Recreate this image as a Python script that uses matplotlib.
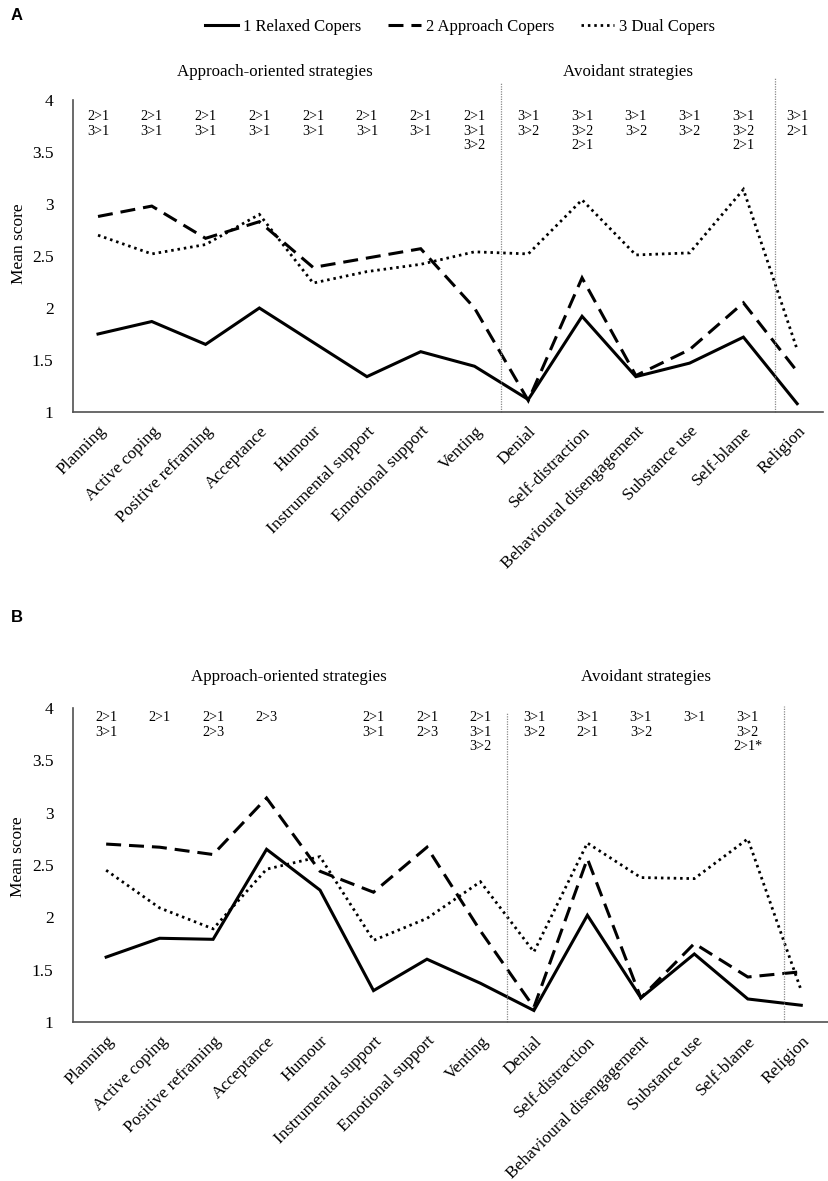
import matplotlib
matplotlib.use("Agg")
import matplotlib.pyplot as plt
from matplotlib.lines import Line2D

# ---------------- data ----------------
categories = ["Planning", "Active coping", "Positive reframing", "Acceptance",
              "Humour", "Instrumental support", "Emotional support", "Venting",
              "Denial", "Self-distraction", "Behavioural disengagement",
              "Substance use", "Self-blame", "Religion"]
group_names = ["1 Relaxed Copers", "2 Approach Copers", "3 Dual Copers"]

a_relaxed = [1.75, 1.87, 1.65, 2.00, 1.67, 1.34, 1.58, 1.44, 1.12, 1.92, 1.34, 1.47, 1.72, 1.08]
a_approach = [2.88, 2.98, 2.67, 2.83, 2.39, 2.48, 2.57, 2.00, 1.11, 2.29, 1.35, 1.60, 2.05, 1.39]
a_dual = [2.70, 2.52, 2.61, 2.90, 2.24, 2.35, 2.42, 2.54, 2.52, 3.04, 2.51, 2.53, 3.14, 1.60]

b_relaxed = [1.62, 1.80, 1.79, 2.65, 2.26, 1.30, 1.60, 1.37, 1.11, 2.02, 1.23, 1.65, 1.22, 1.16]
b_approach = [2.70, 2.67, 2.60, 3.14, 2.44, 2.24, 2.67, 1.87, 1.14, 2.56, 1.23, 1.75, 1.43, 1.48]
b_dual = [2.45, 2.09, 1.89, 2.46, 2.58, 1.78, 1.99, 2.34, 1.67, 2.71, 2.38, 2.37, 2.75, 1.30]

a_annot = ["2>1\n3>1", "2>1\n3>1", "2>1\n3>1", "2>1\n3>1", "2>1\n3>1", "2>1\n3>1",
           "2>1\n3>1", "2>1\n3>1\n3>2", "3>1\n3>2", "3>1\n3>2\n2>1", "3>1\n3>2",
           "3>1\n3>2", "3>1\n3>2\n2>1", "3>1\n2>1"]
b_annot = ["2>1\n3>1", "2>1", "2>1\n2>3", "2>3", "", "2>1\n3>1", "2>1\n2>3",
           "2>1\n3>1\n3>2", "3>1\n3>2", "3>1\n2>1", "3>1\n3>2", "3>1",
           "3>1\n3>2\n2>1*", ""]

section_labels = ["Approach-oriented strategies", "Avoidant strategies"]
yticks = [1, 1.5, 2, 2.5, 3, 3.5, 4]
ytick_labels = ["1", "1.5", "2", "2.5", "3", "3.5", "4"]
panel_letters = ["A", "B"]

# ---------------- style ----------------
plt.rcParams['font.family'] = ['Liberation Serif', 'DejaVu Serif']
W, H = 829, 1181
fig = plt.figure(figsize=(W / 100, H / 100), dpi=100)

styles = [dict(color='black', lw=2.2, ls='-'),
          dict(color='black', lw=2.2, ls=(0, (4.9, 2.6))),
          dict(color='black', lw=2.0, ls=(0, (0.9, 1.4)))]


def px_axes(left, top, right, bottom):
    return fig.add_axes([left / W, 1 - bottom / H, (right - left) / W, (bottom - top) / H])


panels = [
    dict(box=(73, 100, 823, 412), xlim=(-0.465, 13.48),
         series=[a_relaxed, a_approach, a_dual], annot=a_annot, annot_y=3.90,
         vlines=[(7.5, 4.16), (12.59, 4.22)], head_y=4.27, head_x=[3.29, 9.85],
         ylab_y=0.54, letter_y=15),
    dict(box=(73, 708, 828, 1022), xlim=(-0.62, 13.5),
         series=[b_relaxed, b_approach, b_dual], annot=b_annot, annot_y=3.97,
         vlines=[(7.5, 3.96), (12.67, 4.02)], head_y=4.30, head_x=[3.42, 10.09],
         ylab_y=0.525, letter_y=618),
]

x = list(range(len(categories)))
handles = []
for p in panels:
    ax = px_axes(*p['box'])
    for vals, st in zip(p['series'], styles):
        ln, = ax.plot(x, vals, solid_joinstyle='miter', dash_joinstyle='miter', **st)
        if p is panels[0]:
            handles.append(ln)
    ax.set_xlim(*p['xlim'])
    ax.set_ylim(1, 4)
    ax.set_yticks(yticks)
    ax.set_yticklabels(ytick_labels, fontsize=12.5)
    ax.set_xticks(x)
    ax.set_xticklabels(categories, rotation=45, ha='right', rotation_mode='anchor',
                       fontsize=12.5)
    ax.tick_params(axis='y', length=0, pad=14)
    ax.tick_params(axis='x', length=0, pad=8)
    for s in ['top', 'right']:
        ax.spines[s].set_visible(False)
    for s in ['left', 'bottom']:
        ax.spines[s].set_color('#505050')
        ax.spines[s].set_linewidth(1.2)
    for vx, vtop in p['vlines']:
        ax.plot([vx, vx], [1, vtop], color='#8a8a8a', lw=0.9, ls=(0, (1, 1)), clip_on=False)
    for i, t in enumerate(p['annot']):
        if t:
            ax.text(i, p['annot_y'], t, ha='center', va='top', fontsize=10.2, linespacing=1.15)
    for hx, lab in zip(p['head_x'], section_labels):
        ax.text(hx, p['head_y'], lab, ha='center', va='center', fontsize=12.2, clip_on=False)
    ax.set_ylabel("Mean score", fontsize=12.5)
    ax.yaxis.set_label_coords(-0.062, p['ylab_y'])

for p, letter in zip(panels, panel_letters):
    fig.text(11 / W, 1 - p['letter_y'] / H, letter, fontsize=12, fontweight='bold',
             family='Liberation Sans', ha='left', va='center')

fig.legend(handles, group_names, loc='center', bbox_to_anchor=(460 / W, 1 - 27 / H),
           ncol=3, frameon=False, fontsize=12, handlelength=2.0, columnspacing=1.6,
           handletextpad=0.3)

fig.savefig("out.png", dpi=100)
